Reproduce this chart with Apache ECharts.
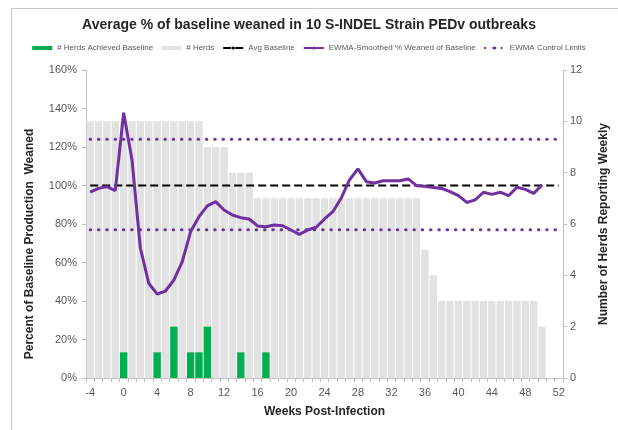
<!DOCTYPE html>
<html>
<head>
<meta charset="utf-8">
<script src="https://cdn.jsdelivr.net/npm/echarts@6/dist/echarts.min.js"></script>
<style>
html,body{margin:0;padding:0;background:#fff;}
#chart{width:618px;height:430px;}
</style>
</head>
<body>
<div id="chart"></div>
<script>
const weeks = ["-4","-3","-2","-1","0","1","2","3","4","5","6","7","8","9","10","11","12","13","14","15","16","17","18","19","20","21","22","23","24","25","26","27","28","29","30","31","32","33","34","35","36","37","38","39","40","41","42","43","44","45","46","47","48","49","50","51","52"];
const herdsAchieved = [0,0,0,0,1,0,0,0,1,0,2,0,1,1,2,0,0,0,1,0,0,1,0,0,0,0,0,0,0,0,0,0,0,0,0,0,0,0,0,0,0,0,0,0,0,0,0,0,0,0,0,0,0,0,0,0,0];
const herds = [10,10,10,10,10,10,10,10,10,10,10,10,10,10,9,9,9,8,8,8,7,7,7,7,7,7,7,7,7,7,7,7,7,7,7,7,7,7,7,7,5,4,3,3,3,3,3,3,3,3,3,3,3,3,2,0,0];
const ewma = [96.5,98.5,99.4,97.3,137.8,113.2,67.4,49.2,43.6,45.2,50.9,60.4,76.0,83.8,89.4,91.6,87.3,84.7,83.3,82.6,79.0,78.6,79.5,79.1,76.9,74.6,76.9,78.3,82.6,86.4,93.5,103.0,108.6,102.0,101.3,102.5,102.5,102.5,103.4,99.9,99.6,98.9,98.5,96.8,94.7,91.2,92.5,96.5,95.4,96.5,94.7,99.1,98.0,95.9,100.3,null,null];
const avgBaseline = [100,100,100,100,100,100,100,100,100,100,100,100,100,100,100,100,100,100,100,100,100,100,100,100,100,100,100,100,100,100,100,100,100,100,100,100,100,100,100,100,100,100,100,100,100,100,100,100,100,100,100,100,100,100,100,100,100];
const upperLimit = [124,124,124,124,124,124,124,124,124,124,124,124,124,124,124,124,124,124,124,124,124,124,124,124,124,124,124,124,124,124,124,124,124,124,124,124,124,124,124,124,124,124,124,124,124,124,124,124,124,124,124,124,124,124,124,124,124];
const lowerLimit = [77,77,77,77,77,77,77,77,77,77,77,77,77,77,77,77,77,77,77,77,77,77,77,77,77,77,77,77,77,77,77,77,77,77,77,77,77,77,77,77,77,77,77,77,77,77,77,77,77,77,77,77,77,77,77,77,77];

const FONT = "'Liberation Sans', Arial, sans-serif";
const chart = echarts.init(document.getElementById('chart'), null, {renderer:'canvas'});
const dotStyle = {color:'#7030A0', width:3, type:[0.5,7.8], cap:'round'};
chart.setOption({
  animation:false,
  backgroundColor:'#fff',
  textStyle:{fontFamily:FONT},
  graphic:[{type:'rect', shape:{x:11.5,y:8.5,width:700,height:500}, style:{fill:null, stroke:'#C8C8C8', lineWidth:1}, silent:true}],
  title:{text:'Average % of baseline weaned in 10 S-INDEL Strain PEDv outbreaks', left:'center', top:13,
    textStyle:{fontSize:14, fontWeight:'bold', color:'#262626', fontFamily:FONT}},
  legend:{top:39, left:'center', itemGap:8, itemWidth:20, itemHeight:4,
    textStyle:{fontSize:8, color:'#595959', fontFamily:FONT},
    data:[{name:'# Herds Achieved Baseline', icon:'rect'},{name:'# Herds', icon:'rect'},'Avg Baseline','EWMA-Smoothed % Weaned of Baseline','EWMA Control Limits']},
  grid:{left:86, right:55, top:70, bottom:52, containLabel:false},
  xAxis:{type:'category', data:weeks, boundaryGap:true,
    name:'Weeks Post-Infection', nameLocation:'middle', nameGap:28,
    nameTextStyle:{fontSize:12, fontWeight:'bold', color:'#262626'},
    axisLine:{lineStyle:{color:'#BFBFBF'}},
    axisTick:{show:true, interval:0, alignWithLabel:false, length:4, lineStyle:{color:'#BFBFBF'}},
    axisLabel:{interval:3, fontSize:11, color:'#595959', margin:9}},
  yAxis:[
    {type:'value', min:0, max:160, interval:20, position:'left',
     name:'Percent of Baseline Production  Weaned', nameLocation:'middle', nameGap:50, nameRotate:90,
     nameTextStyle:{fontSize:12, fontWeight:'bold', color:'#262626', padding:[0,40,0,0]},
     axisLine:{show:true, lineStyle:{color:'#BFBFBF'}},
     axisTick:{show:true, length:4, lineStyle:{color:'#BFBFBF'}},
     axisLabel:{formatter:'{value}%', fontSize:11, color:'#595959', margin:9},
     splitLine:{show:false}},
    {type:'value', min:0, max:12, interval:2, position:'right',
     name:'Number of Herds Reporting Weekly', nameLocation:'middle', nameGap:35, nameRotate:90,
     nameTextStyle:{fontSize:12, fontWeight:'bold', color:'#262626'},
     axisLine:{show:true, lineStyle:{color:'#BFBFBF'}},
     axisTick:{show:true, length:4, lineStyle:{color:'#BFBFBF'}},
     axisLabel:{fontSize:11, color:'#595959', margin:7},
     splitLine:{show:false}}
  ],
  series:[
    {name:'# Herds', type:'bar', yAxisIndex:1, data:herds, barCategoryGap:'12%', barGap:'-100%',
     itemStyle:{color:'#E2E2E2'}, z:1},
    {name:'# Herds Achieved Baseline', type:'bar', yAxisIndex:1, data:herdsAchieved, barCategoryGap:'12%', barGap:'-100%',
     itemStyle:{color:'#00B050'}, z:2},
    {name:'Avg Baseline', type:'line', yAxisIndex:0, data:avgBaseline, symbol:'none', z:3,
     lineStyle:{color:'#000', width:2, type:[8,4]}, itemStyle:{color:'#000'}},
    {name:'EWMA Control Limits', type:'line', yAxisIndex:0, data:upperLimit, symbol:'none', z:3,
     lineStyle:dotStyle, itemStyle:{color:'#7030A0'}},
    {name:'EWMA Control Limits', type:'line', yAxisIndex:0, data:lowerLimit, symbol:'none', z:3,
     lineStyle:dotStyle, itemStyle:{color:'#7030A0'}},
    {name:'EWMA-Smoothed % Weaned of Baseline', type:'line', yAxisIndex:0, data:ewma, symbol:'none', z:4,
     lineStyle:{color:'#7030A0', width:3}, itemStyle:{color:'#7030A0'}}
  ]
});
</script>
</body>
</html>
